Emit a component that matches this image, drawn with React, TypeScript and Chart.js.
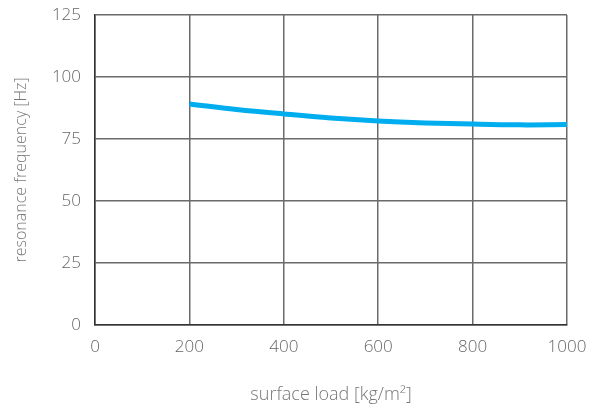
import React, { useEffect, useRef } from "react";
import { Chart, registerables } from "chart.js";

Chart.register(...registerables);

const loads = [200, 300, 400, 500, 600, 700, 800, 900, 1000];
const frequency = [89.1, 86.9, 85.1, 83.5, 82.3, 81.5, 81.0, 80.7, 80.8];
const xTitle = "surface load [kg/m²]";
const yTitle = "resonance frequency [Hz]";

export default function App() {
  const ref = useRef<HTMLCanvasElement>(null);
  useEffect(() => {
    const font = { family: "'Open Sans', Lato, sans-serif", weight: 300 as any };
    const chart = new Chart(ref.current!, {
      type: "line",
      data: {
        datasets: [
          {
            data: loads.map((x, i) => ({ x, y: frequency[i] })),
            borderColor: "#00AEEF",
            borderWidth: 5,
            pointRadius: 0,
            tension: 0.4,
            fill: false,
          },
        ],
      },
      options: {
        animation: false,
        responsive: false,
        devicePixelRatio: 1,
        layout: { padding: { left: 0, top: 15, right: 30, bottom: 0 } },
        plugins: { legend: { display: false }, tooltip: { enabled: false } },
        scales: {
          x: {
            type: "linear",
            min: 0,
            max: 1000,
            ticks: { stepSize: 200, color: "#666", padding: 12, font: { ...font, size: 17 }, callback: (v: any) => String(v) },
            grid: { color: "#6b6b6b", lineWidth: 1.5, drawTicks: false },
            border: { color: "#333", width: 1.5 },
            title: { display: true, text: xTitle, color: "#777", font: { ...font, size: 18 }, padding: { top: 0, bottom: 4 } },
            afterFit: (s: any) => { s.height = 85; s.paddingLeft = 0; s.paddingRight = 0; },
          },
          y: {
            min: 0,
            max: 125,
            ticks: { stepSize: 25, color: "#666", padding: 14, font: { ...font, size: 17 } },
            grid: { color: "#6b6b6b", lineWidth: 1.5, drawTicks: false },
            border: { color: "#333", width: 1.5 },
            title: { display: true, text: yTitle, color: "#777", font: { ...font, size: 16 }, padding: { top: 12, bottom: 0 } },
            afterFit: (s: any) => { s.width = 95; s.paddingTop = 0; s.paddingBottom = 0; },
          },
        },
      },
    });
    return () => chart.destroy();
  }, []);
  return (
    <div style={{ position: "fixed", left: 0, top: 0, width: 597, height: 410, background: "#fff" }}>
      <canvas ref={ref} width={597} height={410} style={{ width: 597, height: 410 }} />
    </div>
  );
}
